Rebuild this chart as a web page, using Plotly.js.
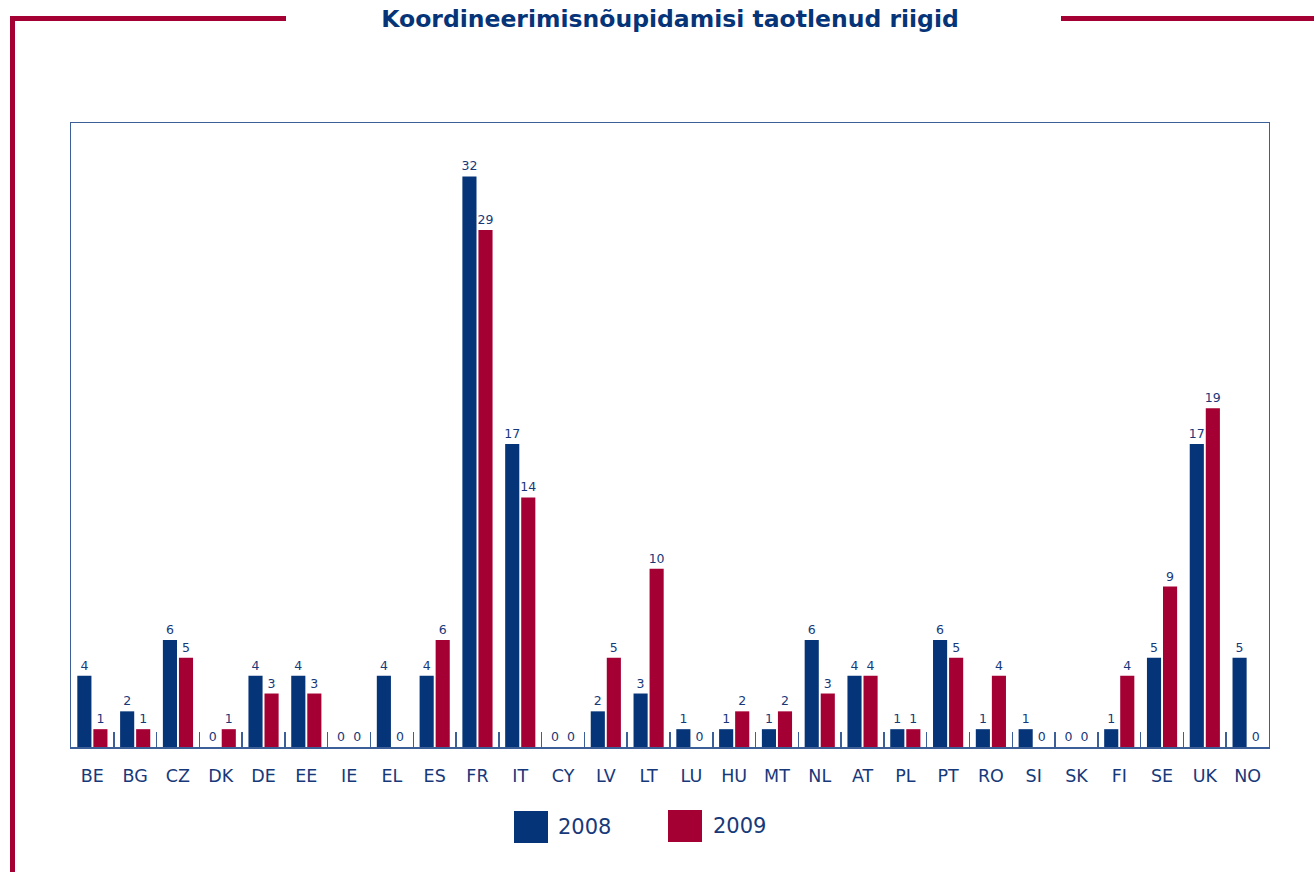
<!DOCTYPE html>
<html>
<head>
<meta charset="utf-8">
<script src="https://cdn.plot.ly/plotly-3.0.1.min.js"></script>
<style>html,body{margin:0;padding:0;background:#fff;}#chart{width:1314px;height:872px;}</style>
</head>
<body>
<div id="chart"></div>
<script>
const categories = ["BE","BG","CZ","DK","DE","EE","IE","EL","ES","FR","IT","CY","LV","LT","LU","HU","MT","NL","AT","PL","PT","RO","SI","SK","FI","SE","UK","NO"];
const values2008 = [4,2,6,0,4,4,0,4,4,32,17,0,2,3,1,1,1,6,4,1,6,1,1,0,1,5,17,5];
const values2009 = [1,1,5,1,3,3,0,0,6,29,14,0,5,10,0,2,2,3,4,1,5,4,0,0,4,9,19,0];
const seriesNames = ["2008","2009"];
const chartTitle = "Koordineerimisnõupidamisi taotlenud riigid";

const BLUE = "#063478";
const RED = "#a50034";
const TEXT = "#17397a";
const FONT = "DejaVu Sans, Verdana, sans-serif";

const W = 1314, H = 872;
const M = {l: 71, r: 45, t: 123, b: 125};
const PW = W - M.l - M.r, PH = H - M.t - M.b;
const px = x => (x - M.l) / PW;
const py = y => (H - M.b - y) / PH;

const labelFont = {family: FONT, size: 12.5, color: TEXT};

const traces = [
  {type: "bar", name: seriesNames[0], x: categories, y: values2008,
   marker: {color: BLUE}, text: values2008.map(String), textposition: "outside", constraintext: "none",
   textfont: labelFont, cliponaxis: false, showlegend: false, hoverinfo: "x+y"},
  {type: "bar", name: seriesNames[1], x: categories, y: values2009,
   marker: {color: RED}, text: values2009.map(String), textposition: "outside", constraintext: "none",
   textfont: labelFont, cliponaxis: false, showlegend: false, hoverinfo: "x+y"}
];

const shapes = [
  // decorative red frame lines
  {type: "rect", xref: "paper", yref: "paper", x0: px(10), x1: px(286), y0: py(16), y1: py(21), fillcolor: RED, line: {width: 0}},
  {type: "rect", xref: "paper", yref: "paper", x0: px(10), x1: px(15), y0: py(16), y1: py(872), fillcolor: RED, line: {width: 0}},
  {type: "rect", xref: "paper", yref: "paper", x0: px(1061), x1: px(1314), y0: py(16), y1: py(21), fillcolor: RED, line: {width: 0}},
  // legend swatches
  {type: "rect", xref: "paper", yref: "paper", x0: px(514), x1: px(548), y0: py(811), y1: py(843), fillcolor: BLUE, line: {width: 0}},
  {type: "rect", xref: "paper", yref: "paper", x0: px(668), x1: px(702), y0: py(810), y1: py(842), fillcolor: RED, line: {width: 0}}
];

const annotations = [
  {xref: "paper", yref: "paper", x: px(556), y: py(827), text: seriesNames[0], showarrow: false,
   xanchor: "left", yanchor: "middle", font: {family: FONT, size: 21, color: TEXT}},
  {xref: "paper", yref: "paper", x: px(711), y: py(826), text: seriesNames[1], showarrow: false,
   xanchor: "left", yanchor: "middle", font: {family: FONT, size: 21, color: TEXT}}
];

const layout = {
  width: W, height: H,
  margin: M,
  paper_bgcolor: "#fff", plot_bgcolor: "#fff",
  title: {text: "<b>" + chartTitle + "</b>", x: 0.5, xref: "paper", xanchor: "center",
          y: 1 - 19/H, yanchor: "middle", font: {family: FONT, size: 23.5, color: BLUE}},
  barmode: "group", bargap: 0.25, bargroupgap: 0.12,
  showlegend: false,
  xaxis: {type: "category", showline: true, mirror: true, linecolor: "#3d5f98", linewidth: 1.5,
          ticks: "inside", tickson: "boundaries", ticklen: 15, tickcolor: "#3d5f98", tickwidth: 1.5,
          ticklabelstandoff: 12,
          tickfont: {family: FONT, size: 17.5, color: TEXT}, showgrid: false, zeroline: false, fixedrange: true},
  yaxis: {range: [0, 35], showline: true, mirror: true, linecolor: "#3d5f98", linewidth: 1.2,
          showticklabels: false, ticks: "", showgrid: false, zeroline: false, fixedrange: true},
  shapes: shapes,
  annotations: annotations
};

Plotly.newPlot("chart", traces, layout, {displayModeBar: false, staticPlot: true});
</script>
</body>
</html>
